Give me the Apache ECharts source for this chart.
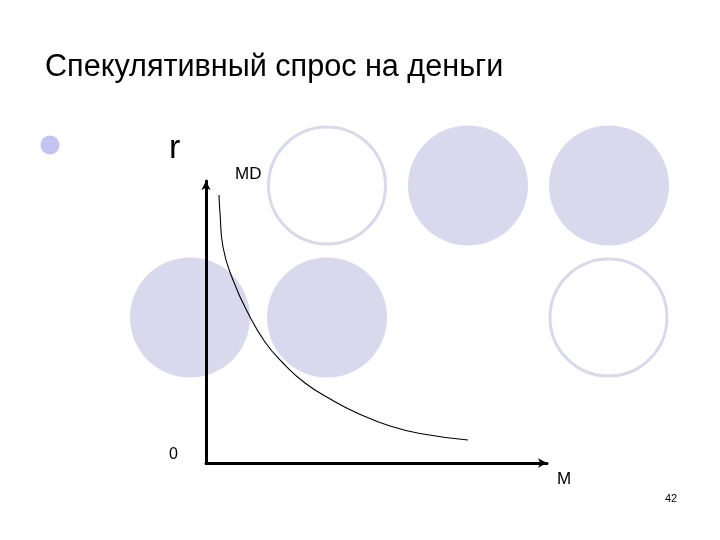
<!DOCTYPE html>
<html>
<head>
<meta charset="utf-8">
<script src="https://cdn.jsdelivr.net/npm/echarts@6/dist/echarts.min.js"></script>
<style>html,body{margin:0;padding:0;background:#fff}#c{width:720px;height:540px}</style>
</head>
<body>
<div id="c"></div>
<script>
// Curve MD: money (x) vs interest rate (y), in axis units
var mdX = [13, 14, 17, 27, 43, 59, 76, 99, 126, 151, 184, 217, 262];
var mdY = [268, 250, 216, 183, 148, 121, 101, 80, 63, 50, 37, 29, 23];
var titleText = 'Спекулятивный спрос на деньги';
var yAxisName = 'r';
var xAxisName = 'M';
var curveName = 'MD';
var originLabel = '0';
var pageNumber = '42';

var chart = echarts.init(document.getElementById('c'), null, {renderer: 'canvas'});
var font = '"Liberation Sans", Arial, sans-serif';
var fillC = '#d9d9ee', strokeC = '#d9d9ea';
function circ(cx, cy, filled) {
  return {type: 'circle', z: -10, silent: true,
    shape: {cx: cx, cy: cy, r: filled ? 60 : 58.5},
    style: filled ? {fill: fillC} : {fill: '#fff', stroke: strokeC, lineWidth: 3}};
}
var data = mdX.map(function (x, i) { return [x, mdY[i]]; });
chart.setOption({
  backgroundColor: '#fff',
  animation: false,
  title: {text: titleText, left: 40, top: 47,
    textStyle: {fontFamily: font, fontSize: 30.6, fontWeight: 'normal', color: '#000'}},
  graphic: [
    circ(327, 185.5, false), circ(468, 185.5, true), circ(609, 185.5, true),
    circ(190, 317.5, true), circ(327, 317.5, true), circ(608.5, 317.5, false),
    {type: 'circle', z: -5, shape: {cx: 50, cy: 145, r: 9.5}, style: {fill: '#c4c4f2'}},
    {type: 'text', left: 169, top: 132, style: {text: yAxisName, font: '34px ' + font, fill: '#000'}},
    {type: 'text', left: 235, top: 166, style: {text: curveName, font: '17px ' + font, fill: '#000'}},
    {type: 'text', left: 169, top: 447, style: {text: originLabel, font: '16px ' + font, fill: '#000'}},
    {type: 'text', left: 557, top: 471, style: {text: xAxisName, font: '17px ' + font, fill: '#000'}},
    {type: 'text', left: 665, top: 493, style: {text: pageNumber, font: '11px ' + font, fill: '#000'}}
  ],
  grid: {left: 206, top: 181, right: 173, bottom: 77, containLabel: false},
  xAxis: {type: 'value', min: 0, max: 341,
    axisLine: {onZero: false, symbol: ['none', 'arrow'], symbolSize: [7, 9], symbolOffset: [0, 0],
      lineStyle: {color: '#000', width: 3}},
    axisTick: {show: false}, axisLabel: {show: false}, splitLine: {show: false}},
  yAxis: {type: 'value', min: 0, max: 282,
    axisLine: {show: true, onZero: false, symbol: ['none', 'arrow'], symbolSize: [7, 9],
      lineStyle: {color: '#000', width: 3}},
    axisTick: {show: false}, axisLabel: {show: false}, splitLine: {show: false}},
  series: [{
    type: 'line', name: curveName, data: data, smooth: 0.5, showSymbol: false,
    lineStyle: {color: '#000', width: 1.1}, z: 3
  }]
});
</script>
</body>
</html>
